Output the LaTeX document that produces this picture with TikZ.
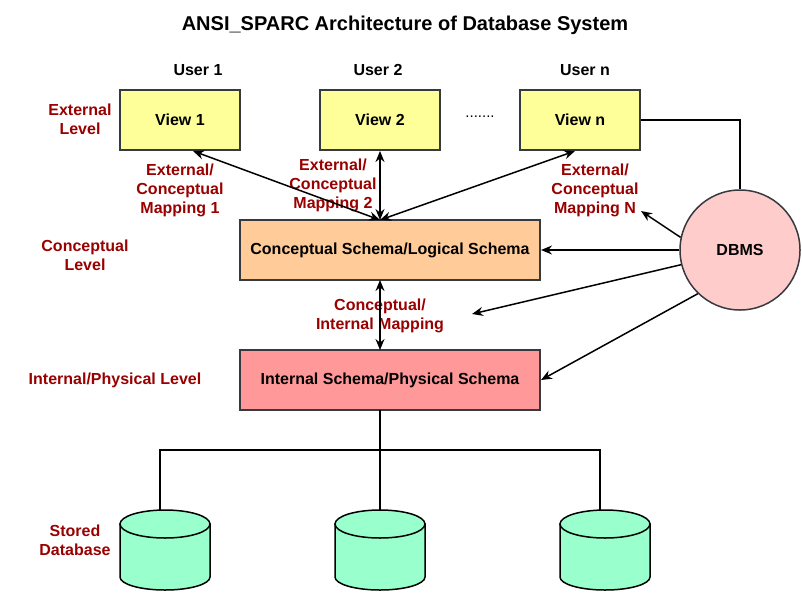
\documentclass[tikz,border=0pt]{standalone}
\usepackage{fontspec}
\setmainfont{Liberation Sans}
\usetikzlibrary{arrows.meta}
\definecolor{lblred}{HTML}{990000}
\definecolor{viewfill}{HTML}{FFFF99}
\definecolor{concfill}{HTML}{FFCC99}
\definecolor{intfill}{HTML}{FF9999}
\definecolor{dbmsfill}{HTML}{FFCCCC}
\definecolor{cylfill}{HTML}{99FFCC}
\definecolor{edge}{HTML}{36393D}
\begin{document}
\begin{tikzpicture}[x=1pt,y=-1pt,
  font=\bfseries\fontsize{16}{19}\selectfont,
  box/.style={draw=edge,line width=2pt,minimum height=60pt,inner sep=0pt},
  viewbox/.style={box,fill=viewfill,minimum width=120pt},
  lbl/.style={text=lblred,align=center,inner sep=0pt},
  plain/.style={text=black,inner sep=0pt},
  arr/.style={line width=1.5pt,-{Stealth[length=11pt,width=9pt]}},
  darr/.style={line width=1.5pt,{Stealth[length=11pt,width=9pt]}-{Stealth[length=11pt,width=9pt]}},
  link/.style={line width=1.5pt},
  cyl/.style={draw=black,line width=1.5pt,fill=cylfill}]
\useasboundingbox (0,0) rectangle (802,592);
% title
\node[plain,font=\bfseries\fontsize{20}{24}\selectfont] (title) at (405,25) {ANSI\_SPARC Architecture of Database System};
% users
\node[plain] (u1) at (198,70) {User 1};
\node[plain] (u2) at (378,70) {User 2};
\node[plain] (un) at (585,70) {User n};
% views
\node[viewbox] (view1) at (180,120) {View 1};
\node[viewbox] (view2) at (380,120) {View 2};
\node[viewbox] (viewn) at (580,120) {View n};
\node[plain,font=\fontsize{15}{19}\selectfont] (dots) at (480,117) {.......};
% schemas
\node[box,fill=concfill,minimum width=300pt] (concept) at (390,250) {Conceptual Schema/Logical Schema};
\node[box,fill=intfill,minimum width=300pt] (internal) at (390,380) {Internal Schema/Physical Schema};
% DBMS
\node[circle,draw=edge,line width=1.5pt,fill=dbmsfill,minimum size=120pt,inner sep=0pt] (dbms) at (740,250) {DBMS};
% level labels
\node[lbl] (extlvl) at (80,119) {External\\Level};
\node[lbl] (conlvl) at (85,255) {Conceptual\\Level};
\node[lbl] (intlvl) at (115,380) {Internal/Physical Level};
\node[lbl] (stored) at (75,540) {Stored\\Database};
% mapping labels
\node[lbl] (map1) at (180,190) {External/\\Conceptual\\Mapping 1};
\node[lbl] (map2) at (333,185) {External/\\Conceptual\\Mapping 2};
\node[lbl] (mapn) at (595,190) {External/\\Conceptual\\Mapping N};
\node[lbl] (mapci) at (380,316) {Conceptual/\\Internal Mapping};
% coordinates
\coordinate (cin) at (380,220);
\coordinate (cout) at (380,280);
\coordinate (iin) at (380,350);
\coordinate (iout) at (380,410);
\coordinate (ptN) at (641,211);
\coordinate (ptCI) at (472,314);
% cylinders
\foreach \cx/\nm in {165/db1,380/db2,605/db3}{
  \draw[cyl] (\cx-45,524) -- (\cx-45,577) arc[start angle=180,end angle=0,x radius=45,y radius=13] -- (\cx+45,524) -- cycle;
  \draw[cyl] (\cx,524) ellipse[x radius=45,y radius=14];
  \coordinate (\nm) at (\cx,510);
}
\coordinate (b1) at (160,510);
\coordinate (b3) at (600,510);
% connectors
\draw[darr] ([xshift=13pt]view1.south) -- (cin);
\draw[darr] (view2.south) -- (cin);
\draw[darr] ([xshift=-5pt]viewn.south) -- (cin);
\draw[darr] (cout) -- (iin);
\draw[link] (viewn.east) -| (dbms.north);
\draw[arr] (dbms.west) -- (concept.east);
\draw[arr] (dbms.168) -- (ptN);
\draw[arr] (dbms.194) -- (ptCI);
\draw[arr] (dbms.226) -- (internal.east);
\draw[link] (iout) -- (db2);
\draw[link] (b1) -- (160,450) -- (600,450) -- (b3);
\end{tikzpicture}
\end{document}
